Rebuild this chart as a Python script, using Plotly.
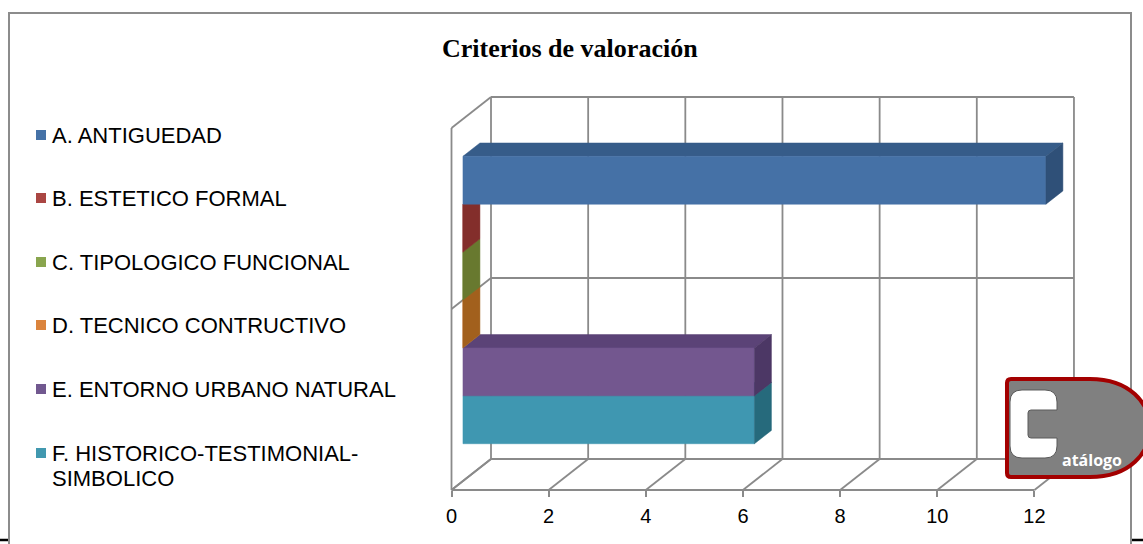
import plotly.graph_objects as go

# ---- chart data -------------------------------------------------------
series = [
    "A. ANTIGUEDAD",
    "B. ESTETICO FORMAL",
    "C. TIPOLOGICO FUNCIONAL",
    "D. TECNICO CONTRUCTIVO",
    "E. ENTORNO URBANO NATURAL",
    "F. HISTORICO-TESTIMONIAL-SIMBOLICO",
]
values = [12, 0, 0, 0, 6, 6]
tick_values = [0, 2, 4, 6, 8, 10, 12]
tick_labels = ["0", "2", "4", "6", "8", "10", "12"]
title_text = "Criterios de valoración"

# face colours per series: legend swatch, front, top, side
swatch = ["#4572A7", "#AA4643", "#89A54E", "#DB843D", "#71588F", "#4198AF"]
front_col = ["#4571A6", "#9A3A37", "#7A933F", "#C77531", "#73578F", "#3F97B1"]
top_col = ["#365C89", "#7F2F2D", "#65792F", "#A8621F", "#5B4377", "#2F7A8E"]
side_col = ["#2F5078", "#832E2B", "#68792F", "#A2601D", "#4C3765", "#266A7C"]

# ---- page / projection geometry ----------------------------------------
W, H = 1143, 544
PXU = 48.58          # pixels per value unit
PXS = 47.9           # pixels per bar slot
X0 = 451.5           # pixel column of value 0 on the front plane
FLOOR = 490          # pixel row of the front floor edge
DX = 39.5 / PXU      # depth shift (value units)
DY = 31.0 / PXS      # depth shift (slot units)
GAP = 1.557          # empty slots shared above/below the bar stack
WALL = len(series) + GAP
D_FRONT, D_BACK = 0.29, 0.72
VMAX = max(tick_values)


def proj(v, s, d):
    return v + d * DX, s + d * DY


def poly(pts):
    xs, ys = zip(*[proj(*p) for p in pts])
    return list(xs) + [xs[0]], list(ys) + [ys[0]]


def px(x):
    return x / W


def py(y):
    return 1 - y / H


fig = go.Figure()
GRID = dict(color="#8a8a8a", width=1.8)


def grid_line(p0, p1):
    (x0, y0), (x1, y1) = proj(*p0), proj(*p1)
    fig.add_trace(go.Scatter(x=[x0, x1], y=[y0, y1], mode="lines",
                             line=GRID, hoverinfo="skip", showlegend=False))


# walls and floor
for t in tick_values:
    grid_line((t, 0, 1), (t, WALL, 1))          # back wall verticals
    grid_line((t, 0, 0), (t, 0, 1))             # floor depth lines
for s in (0, WALL / 2, WALL):
    grid_line((0, s, 1), (VMAX, s, 1))          # back wall horizontals
    grid_line((0, s, 0), (0, s, 1))             # side wall diagonals
grid_line((0, 0, 0), (0, WALL, 0))              # side wall front edge
grid_line((0, 0, 0), (VMAX, 0, 0))              # floor front edge

# bars, drawn bottom-up so upper bars cover the ones beneath
n = len(series)
for k in reversed(range(n)):
    v = values[k]
    lo = GAP / 2 + (n - 1 - k)
    hi = lo + 1
    faces = [
        (top_col[k], [(0, hi, D_FRONT), (v, hi, D_FRONT), (v, hi, D_BACK), (0, hi, D_BACK)]),
        (front_col[k], [(0, lo, D_FRONT), (v, lo, D_FRONT), (v, hi, D_FRONT), (0, hi, D_FRONT)]),
        (side_col[k], [(v, lo, D_FRONT), (v, lo, D_BACK), (v, hi, D_BACK), (v, hi, D_FRONT)]),
    ]
    for col, pts in faces:
        xs, ys = poly(pts)
        fig.add_trace(go.Scatter(x=xs, y=ys, mode="lines", fill="toself",
                                 fillcolor=col, line=dict(color=col, width=0.5),
                                 name=series[k], hoverinfo="name", showlegend=False))

# ---- legend -------------------------------------------------------------
LEG_Y = [135, 198, 262, 325, 389, 453]
LEG_LINE = 25
LEG_FONT = dict(family="Liberation Sans, Arial", size=22, color="#000")
annotations = []
shapes = []
for k, name in enumerate(series):
    yc = LEG_Y[k]
    shapes.append(dict(type="rect", xref="paper", yref="paper",
                       x0=px(36), x1=px(46), y0=py(yc + 5), y1=py(yc - 5),
                       fillcolor=swatch[k], line=dict(width=0)))
    # long names wrap after the second hyphen
    lines = name.replace("TESTIMONIAL-", "TESTIMONIAL-\n").split("\n")
    for j, line in enumerate(lines):
        annotations.append(dict(text=line, xref="paper", yref="paper",
                                x=px(50), y=py(yc + j * LEG_LINE), xanchor="left",
                                yanchor="middle", align="left", showarrow=False,
                                font=LEG_FONT))

# title
annotations.append(dict(text="<b>" + title_text + "</b>", xref="paper", yref="paper",
                        x=px(570), y=py(48), xanchor="center", yanchor="middle",
                        showarrow=False,
                        font=dict(family="Liberation Serif, Times New Roman", size=26, color="#000")))

# outer frame
shapes.append(dict(type="rect", xref="paper", yref="paper",
                   x0=px(9), x1=px(1131), y0=py(570), y1=py(13),
                   line=dict(color="#8c8c8c", width=2), fillcolor="rgba(0,0,0,0)"))
shapes.append(dict(type="line", xref="paper", yref="paper",
                   x0=px(0), x1=px(8), y0=py(540), y1=py(540),
                   line=dict(color="#000", width=2.5)))
shapes.append(dict(type="line", xref="paper", yref="paper",
                   x0=px(1132), x1=px(1143), y0=py(540), y1=py(540),
                   line=dict(color="#000", width=2.5)))


# ---- catalogue badge ------------------------------------------------------
def path_px(cmds):
    out = []
    for c in cmds:
        if isinstance(c, str):
            out.append(c)
        else:
            out.append(f"{px(c[0]):.5f},{py(c[1]):.5f}")
    return " ".join(out)


badge = path_px(["M", (1011, 379), "L", (1090, 379), "C", (1170, 379), (1170, 477), (1090, 477),
                 "L", (1011, 477), "Q", (1007, 477), (1007, 473), "L", (1007, 383),
                 "Q", (1007, 379), (1011, 379), "Z"])
shapes.append(dict(type="path", xref="paper", yref="paper", path=badge,
                   fillcolor="#808080", line=dict(color="#a30000", width=4)))
letter_c = path_px(["M", (1057, 410), "L", (1031, 410), "Q", (1028, 410), (1028, 413),
                    "L", (1028, 435), "Q", (1028, 438), (1031, 438), "L", (1057, 438),
                    "L", (1057, 446), "Q", (1057, 458), (1045, 458), "L", (1022, 458),
                    "Q", (1010, 458), (1010, 446), "L", (1010, 402), "Q", (1010, 390), (1022, 390),
                    "L", (1045, 390), "Q", (1057, 390), (1057, 402), "Z"])
shapes.append(dict(type="path", xref="paper", yref="paper", path=letter_c,
                   fillcolor="#ffffff", line=dict(color="#5a5a5a", width=1)))
annotations.append(dict(text="<b>atálogo</b>", xref="paper", yref="paper",
                        x=px(1092), y=py(460), xanchor="center", yanchor="middle",
                        showarrow=False,
                        font=dict(family="Open Sans, Lato", size=16, color="#ffffff")))

fig.update_layout(
    width=W, height=H,
    margin=dict(l=0, r=0, t=0, b=0),
    paper_bgcolor="#ffffff", plot_bgcolor="#ffffff",
    showlegend=False,
    xaxis=dict(range=[-X0 / PXU, (W - X0) / PXU], domain=[0, 1],
               anchor="free", position=py(FLOOR),
               tickmode="array", tickvals=tick_values, ticktext=tick_labels,
               ticks="outside", ticklen=6, tickwidth=1.8, tickcolor="#8a8a8a",
               showline=False, showgrid=False, zeroline=False,
               ticklabelstandoff=2,
               tickfont=dict(family="Liberation Sans, Arial", size=20, color="#000")),
    yaxis=dict(range=[-(H - FLOOR) / PXS, FLOOR / PXS], domain=[0, 1],
               visible=False, showgrid=False, zeroline=False),
    annotations=annotations,
    shapes=shapes,
)

fig.write_html("out.html")
